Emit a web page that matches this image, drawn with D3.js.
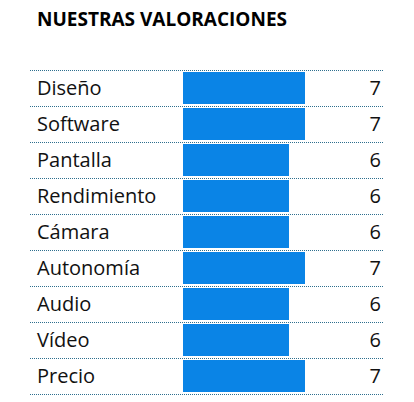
<!DOCTYPE html>
<html><head><meta charset="utf-8">
<script src="https://cdn.jsdelivr.net/npm/d3@7"></script>
<style>body{margin:0;background:#fff}</style></head>
<body><svg id="c" width="414" height="402"></svg>
<script>
const title = "NUESTRAS VALORACIONES";
const categories = ["Diseño","Software","Pantalla","Rendimiento","Cámara","Autonomía","Audio","Vídeo","Precio"];
const values = [7,7,6,6,6,7,6,6,7];

const svg = d3.select("#c");
const font = "'Open Sans', 'Noto Sans', sans-serif";
svg.append("text").attr("x",37).attr("y",26).attr("font-family",font)
  .attr("font-weight","bold").attr("font-size",19).attr("fill","#000").text(title);

const y = d3.scaleBand().domain(categories).range([70,394]).padding(0);
const x = d3.scaleLinear().domain([-0.625,7]).range([183,305]);

const g = svg.append("g");
// separators
g.selectAll("line.sep").data([0,...categories.map((c,i)=>i+1)]).join("line")
  .attr("x1",30).attr("x2",383)
  .attr("y1",i=> i===0 ? y.range()[0]+0.5 : y(categories[i-1])+y.bandwidth()+0.5)
  .attr("y2",i=> i===0 ? y.range()[0]+0.5 : y(categories[i-1])+y.bandwidth()+0.5)
  .attr("stroke","#2e6f8e").attr("stroke-width",1).attr("stroke-dasharray","1,1");

g.selectAll("rect").data(values).join("rect")
  .attr("x",x(-0.625)).attr("width",d=>x(d)-x(-0.625))
  .attr("y",(d,i)=>y(categories[i])+2).attr("height",y.bandwidth()-4)
  .attr("fill","#0a84e6");

g.selectAll("text.lab").data(categories).join("text").attr("class","lab")
  .attr("x",37).attr("y",c=>y(c)+y.bandwidth()/2+7).attr("font-family",font)
  .attr("font-size",20).attr("fill","#111").text(c=>c);

g.selectAll("text.val").data(values).join("text").attr("class","val")
  .attr("x",381).attr("text-anchor","end")
  .attr("y",(d,i)=>y(categories[i])+y.bandwidth()/2+7).attr("font-family",font)
  .attr("font-size",20).attr("fill","#111").text(d=>d);
</script></body></html>
